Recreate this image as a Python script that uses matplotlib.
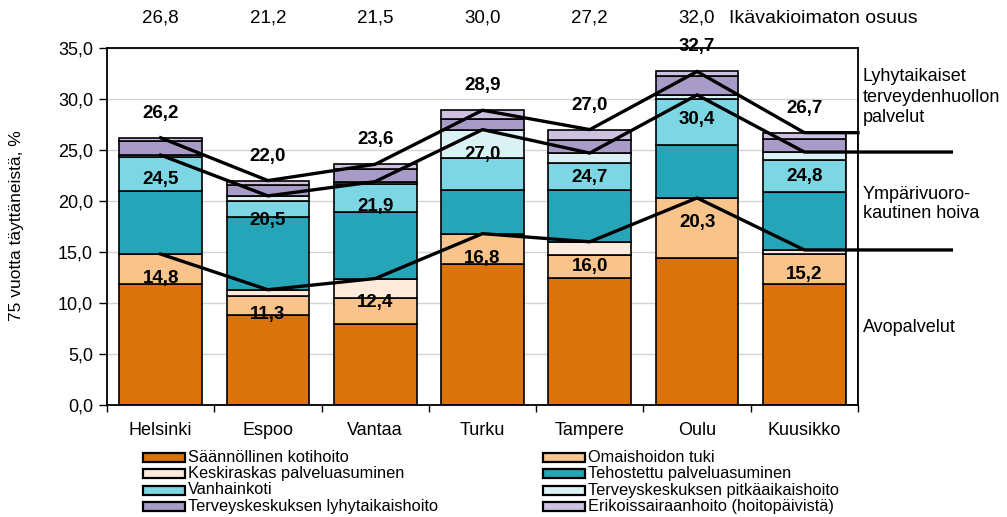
import numpy as np
import matplotlib
matplotlib.use('Agg')
import matplotlib.pyplot as plt
from matplotlib import font_manager
from matplotlib.patches import Rectangle

plt.rcParams['font.family'] = ['Liberation Sans', 'DejaVu Sans']

cities = ['Helsinki', 'Espoo', 'Vantaa', 'Turku', 'Tampere', 'Oulu', 'Kuusikko']
series_names = ['Säännöllinen kotihoito', 'Omaishoidon tuki',
                'Keskiraskas palveluasuminen', 'Tehostettu palveluasuminen',
                'Vanhainkoti', 'Terveyskeskuksen pitkäaikaishoito',
                'Terveyskeskuksen lyhytaikaishoito', 'Erikoissairaanhoito (hoitopäivistä)']
colors = ['#D9730A', '#F8C48B', '#FDEADB', '#27A5B8',
          '#7CD6E4', '#DBF2F5', '#A99BC7', '#CDC1DF']

# segment values per series (rows) and city (columns)
kotihoito = [11.9, 8.8, 7.9, 13.8, 12.5, 14.4, 11.9]
omaishoito = [2.9, 1.9, 2.6, 3.0, 2.2, 5.9, 2.9]
keskiraskas = [0.0, 0.6, 1.9, 0.0, 1.3, 0.0, 0.4]
tehostettu = [6.2, 7.1, 6.5, 4.3, 5.1, 5.2, 5.7]
vanhainkoti = [3.3, 1.6, 2.8, 3.1, 2.6, 4.5, 3.1]
tk_pitka = [0.2, 0.5, 0.2, 2.8, 1.0, 0.4, 0.8]
tk_lyhyt = [1.4, 1.1, 1.2, 1.0, 1.3, 1.9, 1.3]
erikois = [0.3, 0.4, 0.5, 0.9, 1.0, 0.4, 0.6]
segments = [kotihoito, omaishoito, keskiraskas, tehostettu,
            vanhainkoti, tk_pitka, tk_lyhyt, erikois]

avo = [14.8, 11.3, 12.4, 16.8, 16.0, 20.3, 15.2]
ymp = [24.5, 20.5, 21.9, 27.0, 24.7, 30.4, 24.8]
total = [26.2, 22.0, 23.6, 28.9, 27.0, 32.7, 26.7]
unadjusted = ['26,8', '21,2', '21,5', '30,0', '27,2', '32,0']

fig = plt.figure(figsize=(10.07, 5.17), dpi=100)
ax = fig.add_axes([107/1007, 1 - 405/517, 751/1007, 357/517])

x = np.arange(len(cities))
bottom = np.zeros(len(cities))
for vals, col in zip(segments, colors):
    ax.bar(x, vals, 0.77, bottom=bottom, color=col, edgecolor='black',
           linewidth=1.2, zorder=2)
    bottom += np.array(vals)

# odd little white box right of the last bar
ax.bar(6.445, total[-1], 0.11, color='white', edgecolor='black', linewidth=1.2, zorder=2)

# summary lines, extended to the right margin
x_end = 7.37
ax.plot(list(x) + [6.5], total + [total[-1]], color='black', lw=2.4, zorder=3,
        clip_on=False, solid_joinstyle='miter')
ax.plot(list(x) + [x_end], ymp + [ymp[-1]], color='black', lw=2.4, zorder=3,
        clip_on=False, solid_joinstyle='miter')
ax.plot(list(x) + [x_end], avo + [avo[-1]], color='black', lw=2.4, zorder=3,
        clip_on=False, solid_joinstyle='miter')

def fmt(v):
    return f'{v:.1f}'.replace('.', ',')

for i in x:
    ax.text(i, total[i] + 2.4, fmt(total[i]), ha='center', va='center',
            fontsize=13.5, fontweight='bold', zorder=4, clip_on=False)
    ax.text(i, ymp[i] - 2.4, fmt(ymp[i]), ha='center', va='center',
            fontsize=13.5, fontweight='bold', zorder=4)
    ax.text(i, avo[i] - 2.4, fmt(avo[i]), ha='center', va='center',
            fontsize=13.5, fontweight='bold', zorder=4)

for i, s in enumerate(unadjusted):
    ax.text(i, 1.084, s, transform=ax.get_xaxis_transform(), ha='center',
            va='center', fontsize=13.5)
ax.text(5.3, 1.084, 'Ikävakioimaton osuus', transform=ax.get_xaxis_transform(),
        ha='left', va='center', fontsize=14)

ax.set_xlim(-0.5, 6.5)
ax.set_ylim(0, 35)
ax.set_yticks(np.arange(0, 36, 5))
ax.set_yticklabels([fmt(v) for v in np.arange(0, 36, 5)], fontsize=13)
ax.set_xticks(x)
ax.set_xticklabels(cities, fontsize=13)
ax.set_xticks(np.arange(-0.5, 7, 1), minor=True)
ax.tick_params(axis='x', which='major', length=0, pad=12)
ax.tick_params(axis='x', which='minor', length=5, width=1, direction='out')
ax.tick_params(axis='y', length=6, width=1, direction='out', pad=4)
ax.grid(axis='y', color='#D4D4D4', lw=1, zorder=0)
ax.set_axisbelow(True)
for sp in ax.spines.values():
    sp.set_linewidth(1.3)
    sp.set_color('black')

fig.text(17/1007, 1 - 226/517, '75 vuotta täyttäneistä, %', rotation=90,
         ha='center', va='center', fontsize=12.5)

# right-hand group labels
fig.text(863/1007, 1 - 97/517, 'Lyhytaikaiset\nterveydenhuollon\npalvelut',
         ha='left', va='center', fontsize=13, linespacing=1.3)
fig.text(863/1007, 1 - 204/517, 'Ympärivuoro-\nkautinen hoiva',
         ha='left', va='center', fontsize=13, linespacing=1.15)
fig.text(863/1007, 1 - 327/517, 'Avopalvelut', ha='left', va='center', fontsize=13)

# legend drawn by hand in two columns
narrow = 'Liberation Sans Narrow'
have_narrow = any(f.name == narrow for f in font_manager.fontManager.ttflist)
leg_font = dict(family=[narrow, 'DejaVu Sans'], fontsize=13) if have_narrow \
    else dict(fontsize=11.8)
for i, (name, col) in enumerate(zip(series_names, colors)):
    c, r = i % 2, i // 2
    px = 143 + c * 400
    py = 457 + r * 16.5
    fig.add_artist(Rectangle((px/1007, 1 - (py + 4.5)/517), 42/1007, 9/517,
                             transform=fig.transFigure, facecolor=col,
                             edgecolor='black', linewidth=1.6))
    fig.text((px + 45)/1007, 1 - py/517, name, ha='left', va='center', **leg_font)

fig.savefig('out.png', dpi=100)
